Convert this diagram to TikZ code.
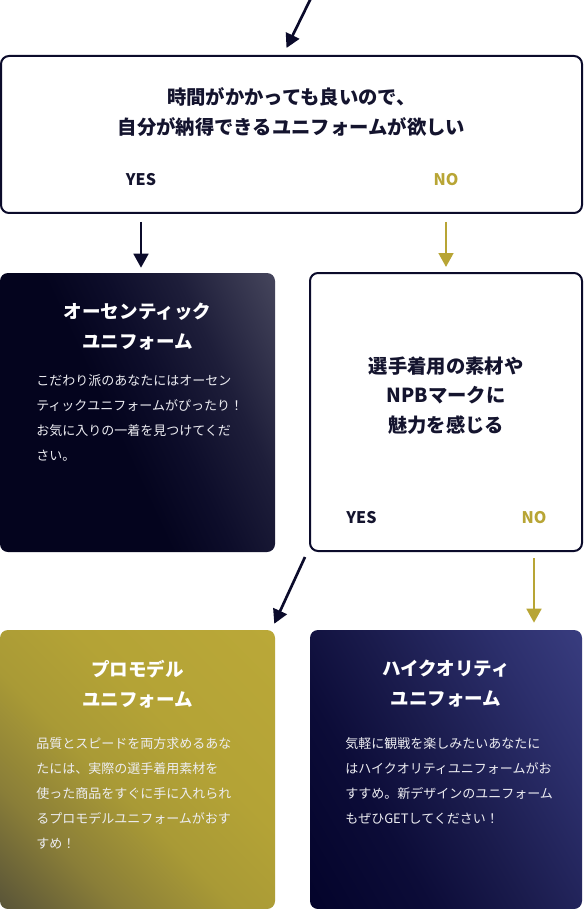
\documentclass[tikz,border=0pt]{standalone}
\usepackage{fontspec}
\setmainfont{Noto Sans CJK JP}
\usetikzlibrary{arrows.meta,calc,fit}
\definecolor{navy}{HTML}{0B0B2B}
\definecolor{ink}{HTML}{14142E}
\definecolor{gold}{HTML}{B8A535}
\definecolor{softwhite}{HTML}{EDEDF2}
% authentic card
\definecolor{a1}{HTML}{04041E}
\definecolor{a2}{HTML}{0D0D2A}
\definecolor{a3}{HTML}{1E1E3A}
\definecolor{a4}{HTML}{4A4A60}
% pro card
\definecolor{p1}{HTML}{5A5538}
\definecolor{p2}{HTML}{8A7E38}
\definecolor{p3}{HTML}{A99A36}
\definecolor{p4}{HTML}{B4A336}
\definecolor{p5}{HTML}{BAA838}
% high quality card
\definecolor{h1}{HTML}{03032A}
\definecolor{h2}{HTML}{0C0C38}
\definecolor{h3}{HTML}{1A1B4C}
\definecolor{h4}{HTML}{2C2F6C}
\definecolor{h5}{HTML}{393D80}
\pgfdeclarehorizontalshading{authsh}{100bp}{color(0bp)=(a1); color(45bp)=(a1); color(55bp)=(a2); color(67bp)=(a3); color(85bp)=(a4); color(100bp)=(a4)}
\pgfdeclarehorizontalshading{prosh}{100bp}{color(0bp)=(p1); color(15bp)=(p1); color(30bp)=(p2); color(45bp)=(p3); color(60bp)=(p4); color(85bp)=(p5); color(100bp)=(p5)}
\pgfdeclarehorizontalshading{hqsh}{100bp}{color(0bp)=(h1); color(15bp)=(h1); color(35bp)=(h2); color(50bp)=(h3); color(70bp)=(h4); color(85bp)=(h5); color(100bp)=(h5)}
\begin{document}
\begin{tikzpicture}[x=0.75pt,y=-0.75pt,
  qbox/.style={draw=navy, line width=1.5pt, rounded corners=6pt, fill=white, inner sep=0pt},
  card/.style={rounded corners=6pt, inner sep=0pt, shade},
  arrD/.style={draw=navy, line width=2pt, -{Triangle[length=10.5pt,width=11pt]}},
  arrG/.style={draw=gold, line width=2pt, -{Triangle[length=10.5pt,width=11pt]}},
  qtext/.style={font=\fontsize{14.5}{22.3}\selectfont\bfseries, text=ink, align=center},
  ttext/.style={font=\fontsize{13.9}{22.5}\selectfont\bfseries, text=white, align=center},
  btext/.style={font=\fontsize{9.75}{18.75}\selectfont, text=softwhite, align=left, anchor=west, inner sep=0pt},
  yn/.style={font=\fontsize{12}{12}\selectfont\bfseries}
]
\fill[white] (0,0) rectangle (583,909);
\useasboundingbox (0,0) rectangle (583,909);

% boxes
\node[qbox, fit={(1,56) (582,213)}] (q1) {};
\node[card, shading=authsh, shading angle=25, fit={(0,273) (275,552)}] (auth) {};
\node[qbox, fit={(310,273) (582,551)}] (q2) {};
\node[card, shading=prosh, shading angle=45, fit={(0,630) (275,909)}] (pro) {};
\node[card, shading=hqsh, shading angle=30, fit={(310,630) (582,909)}] (hq) {};

% question 1
\node[qtext] (q1t) at (291.5,112) {時間がかかっても良いので、\\自分が納得できるユニフォームが欲しい};
\node[yn, text=ink] (yes1) at (141,180) {YES};
\node[yn, text=gold] (no1) at (446,180) {NO};

% authentic
\node[ttext] (autht) at (137.5,327) {オーセンティック\\ユニフォーム};
\node[btext] (authb) at (36,418) {こだわり派のあなたにはオーセン\\ティックユニフォームがぴったり！\\お気に入りの一着を見つけてくだ\\さい。};

% question 2
\node[qtext] (q2t) at (446,395.5) {選手着用の素材や\\NPBマークに\\魅力を感じる};
\node[yn, text=ink] (yes2) at (361.5,518) {YES};
\node[yn, text=gold] (no2) at (534,518) {NO};

% pro model
\node[ttext] (prot) at (137.5,684) {プロモデル\\ユニフォーム};
\node[btext] (prob) at (36,793) {品質とスピードを両方求めるあな\\たには、実際の選手着用素材を\\使った商品をすぐに手に入れられ\\るプロモデルユニフォームがおす\\すめ！};

% high quality
\node[ttext] (hqt) at (446,684) {ハイクオリティ\\ユニフォーム};
\node[btext] (hqb) at (345,780.5) {気軽に観戦を楽しみたいあなたに\\はハイクオリティユニフォームがお\\すすめ。新デザインのユニフォーム\\もぜひGETしてください！};

% connectors
\coordinate (topstart) at (311,-2);
\draw[arrD] (topstart) -- ($(q1.north)+(-5,-7)$);
\draw[arrD] ($(q1.south -| yes1)+(0,8)$) -- ($(auth.north -| yes1)+(0,-5)$);
\draw[arrG] ($(q1.south -| no1)+(0,8)$) -- ($(q2.north -| no1)+(0,-5)$);
\draw[arrD] ($(q2.south west)+(-4,5)$) -- ($(pro.north east)+(-1,-6)$);
\draw[arrG] ($(q2.south -| no2)+(0,6)$) -- ($(hq.north -| no2)+(0,-7)$);
\end{tikzpicture}
\end{document}
